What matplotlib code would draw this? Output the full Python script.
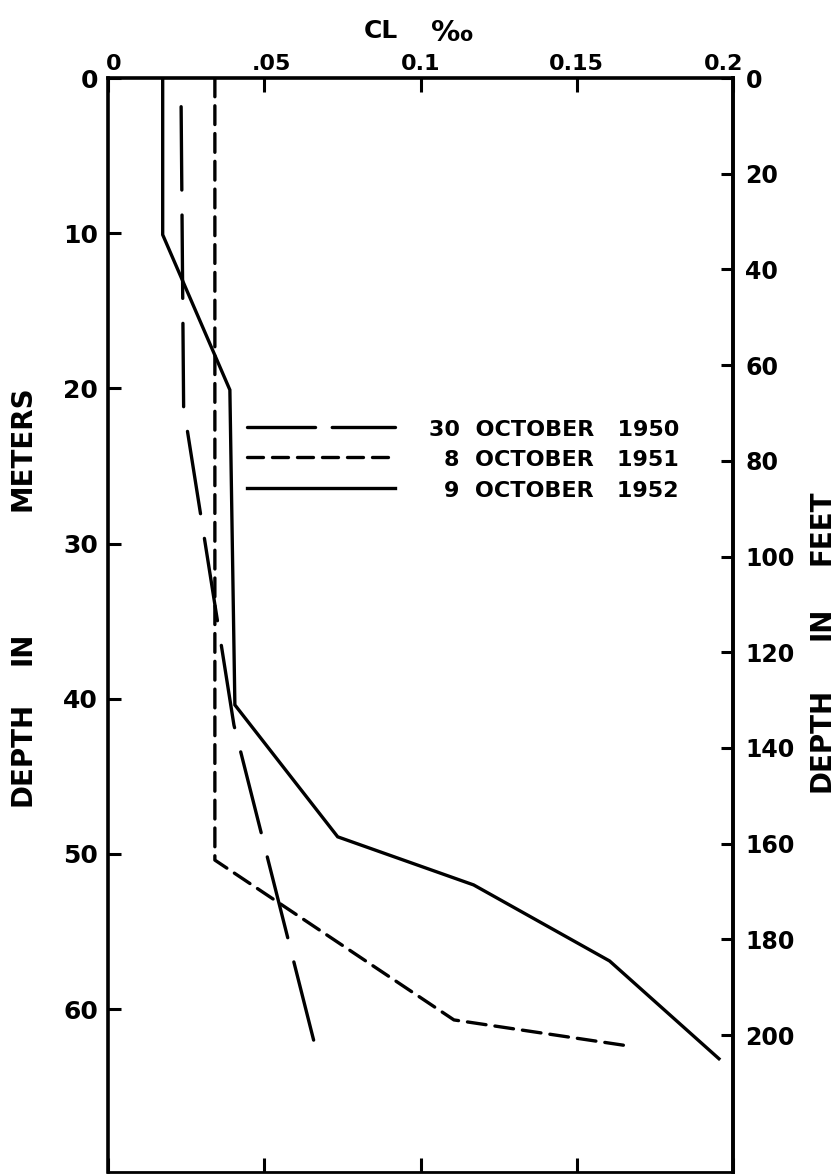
import matplotlib
matplotlib.use('Agg')
import matplotlib.pyplot as plt
from matplotlib.lines import Line2D
from matplotlib.transforms import ScaledTranslation

# ---- data ----
depth_1950 = [1.85, 21.2, 41.7, 62.0]
cl_1950 = [0.0234, 0.0242, 0.0403, 0.0658]

depth_1951 = [0.0, 50.4, 60.7, 62.4]
cl_1951 = [0.0342, 0.0342, 0.1107, 0.1673]

depth_1952 = [0.0, 10.1, 20.1, 40.4, 48.9, 52.0, 56.9, 63.2]
cl_1952 = [0.0175, 0.0175, 0.0390, 0.0406, 0.0735, 0.1170, 0.1605, 0.1955]

x_ticks = [0, 0.05, 0.1, 0.15, 0.2]
x_ticklabels = ['0', '.05', '0.1', '0.15', '0.2']
m_ticks = [0, 10, 20, 30, 40, 50, 60]
ft_ticks = [0, 20, 40, 60, 80, 100, 120, 140, 160, 180, 200]
series_labels = ['30  OCTOBER   1950', '8  OCTOBER   1951', '9  OCTOBER   1952']

plt.rcParams['font.family'] = ['DejaVu Sans']
plt.rcParams['font.weight'] = 'bold'
plt.rcParams['lines.scale_dashes'] = False

W, H = 837, 1175
fig = plt.figure(figsize=(W / 100, H / 100), dpi=100)
L, R, T, B = 108, 733, 78, 1172
ax = fig.add_axes([L / W, 1 - B / H, (R - L) / W, (B - T) / H])
ax.set_xlim(0, 0.2)
ax.set_ylim(70.5, 0)

lw = 2.4
dash_1950 = (0, (60, 18))
dash_1951 = (0, (13.5, 6.5))
ax.plot(cl_1950, depth_1950, color='black', lw=lw, linestyle=dash_1950,
        dash_capstyle='round')
ax.plot(cl_1951, depth_1951, color='black', lw=lw, linestyle=dash_1951,
        dash_capstyle='round')
ax.plot(cl_1952, depth_1952, color='black', lw=lw, linestyle='-',
        solid_joinstyle='miter')

for s in ax.spines.values():
    s.set_linewidth(2.6)
ax.spines['bottom'].set_linewidth(2.0)

ax.set_xticks(x_ticks)
ax.set_xticklabels(x_ticklabels)
ax.tick_params(axis='x', which='both', top=True, bottom=True, labeltop=True,
               labelbottom=False, direction='in', length=10, width=2.2,
               pad=3, labelsize=16)
# small hand-lettering offsets of the top labels (pixels)
x_label_shift = [6, 7, 0, 0, -9]
for lab, dx in zip(ax.get_xticklabels(which='major'), x_label_shift):
    lab.set_transform(lab.get_transform() + ScaledTranslation(dx / 100, 0, fig.dpi_scale_trans))

ax.set_yticks(m_ticks)
ax.set_yticklabels([str(v) for v in m_ticks])
ax.tick_params(axis='y', which='both', left=True, right=False, direction='in',
               length=9, width=2.2, pad=7, labelsize=18)

ax2 = ax.twinx()
ax2.set_ylim(228.6, 0)
ax2.set_yticks(ft_ticks)
ax2.set_yticklabels([str(v) for v in ft_ticks])
ax2.tick_params(axis='y', direction='in', length=9, width=2.2, pad=9,
                labelsize=17)
for s in ax2.spines.values():
    s.set_visible(False)
ax2.spines['right'].set_visible(True)
ax2.spines['right'].set_linewidth(2.6)

# axis titles
fig.text(381 / W, 1 - 31 / H, 'CL', ha='center', va='center',
         fontsize=18, fontweight='bold')
fig.text(452 / W, 1 - 33 / H, '\u2030', ha='center', va='center',
         fontsize=21, fontweight='bold')
for word, yc in [('METERS', 448), ('IN', 648), ('DEPTH', 754)]:
    fig.text(23 / W, 1 - yc / H, word, rotation=90, ha='center', va='center',
             fontsize=20, fontweight='bold')
for word, yc in [('FEET', 527), ('IN', 623), ('DEPTH', 740)]:
    fig.text(822 / W, 1 - yc / H, word, rotation=90, ha='center', va='center',
             fontsize=20, fontweight='bold')

# legend drawn manually
leg_y = [427, 457, 488]
leg_styles = [(0, (49, 12)), (0, (11.5, 6.5)), '-']
for yy, st, lab in zip(leg_y, leg_styles, series_labels):
    fig.add_artist(Line2D([247 / W, 395 / W], [1 - yy / H, 1 - yy / H],
                          transform=fig.transFigure, color='black', lw=lw,
                          linestyle=st, dash_capstyle='round'))
    fig.text(679 / W, 1 - (yy + 3) / H, lab, ha='right', va='center',
             fontsize=16, fontweight='bold')

fig.savefig('out.png', dpi=100)
